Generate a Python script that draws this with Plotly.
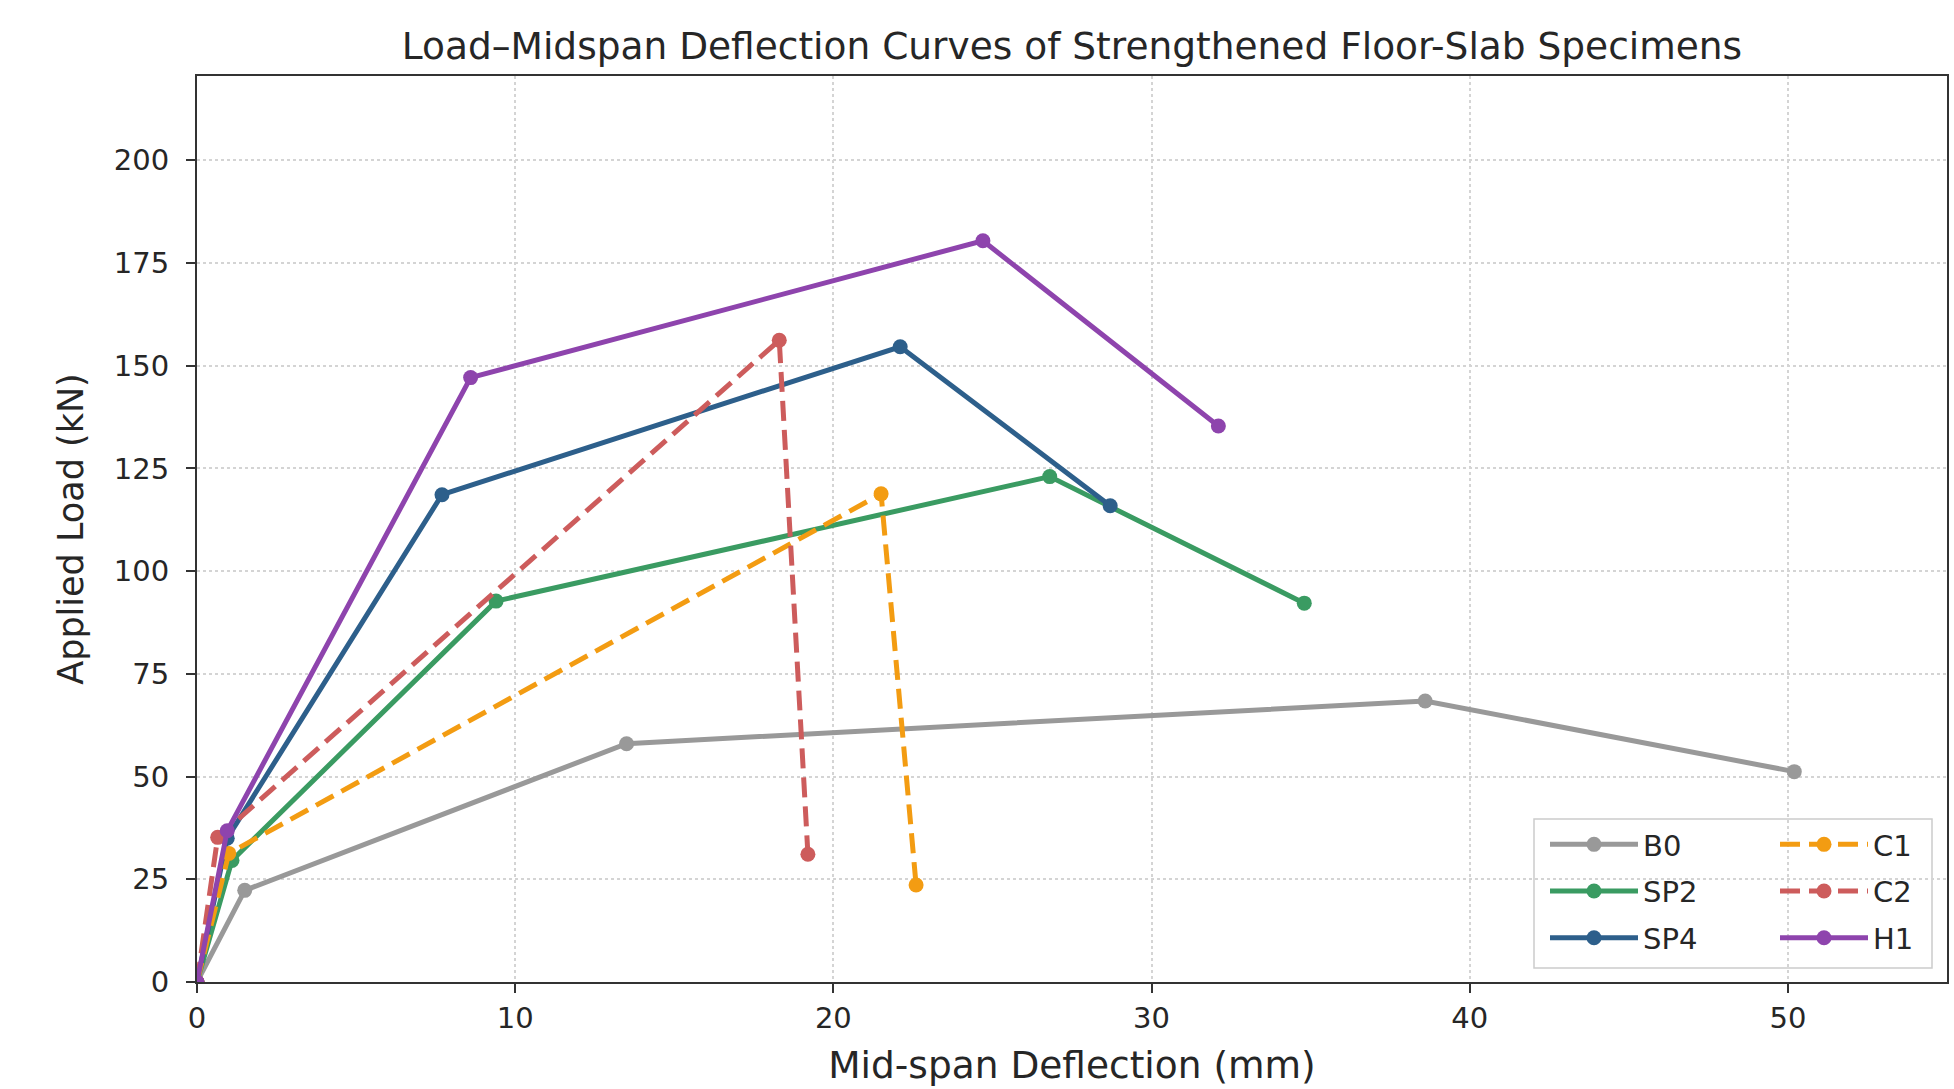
import plotly.graph_objects as go

# ---- data ----
specimens = ["B0", "SP2", "SP4", "C1", "C2", "H1"]
b0_x = [0, 1.5, 13.5, 38.6, 50.2]
b0_y = [0, 22.3, 58.0, 68.4, 51.2]
sp2_x = [0, 1.1, 9.4, 26.8, 34.8]
sp2_y = [0, 29.6, 92.7, 123.0, 92.2]
sp4_x = [0, 0.95, 7.7, 22.1, 28.7]
sp4_y = [0, 35.0, 118.6, 154.6, 115.9]
c1_x = [0, 1.0, 21.5, 22.6]
c1_y = [0, 31.3, 118.8, 23.6]
c2_x = [0, 0.65, 18.3, 19.2]
c2_y = [0, 35.2, 156.2, 31.1]
h1_x = [0, 0.95, 8.6, 24.7, 32.1]
h1_y = [0, 36.8, 147.1, 180.4, 135.3]

x_ticks = [0, 10, 20, 30, 40, 50]
y_ticks = [0, 25, 50, 75, 100, 125, 150, 175, 200]

colors = {"B0": "#999999", "SP2": "#3a9b62", "SP4": "#2d5f8b",
          "C1": "#f39c12", "C2": "#cd5c5c", "H1": "#8e44ad"}
dashed = {"C1", "C2"}
legend_of = {"B0": "legend", "SP2": "legend", "SP4": "legend",
             "C1": "legend2", "C2": "legend2", "H1": "legend2"}

series = {"B0": (b0_x, b0_y), "SP2": (sp2_x, sp2_y), "SP4": (sp4_x, sp4_y),
          "C1": (c1_x, c1_y), "C2": (c2_x, c2_y), "H1": (h1_x, h1_y)}

FONT = "DejaVu Sans"
fig = go.Figure()
for name in specimens:
    xs, ys = series[name]
    fig.add_trace(go.Scatter(
        x=xs, y=ys, name=name, mode="lines+markers",
        line=dict(color=colors[name], width=5,
                  dash="20px,9px" if name in dashed else "solid"),
        marker=dict(color=colors[name], size=15),
        legend=legend_of[name], legendgroup=name,
    ))

W, H = 1954, 1089
L, R, T, B = 197, 7, 76, 107
PW, PH = W - L - R, H - T - B

legend_common = dict(
    font=dict(family=FONT, size=29, color="#262626"),
    bgcolor="rgba(0,0,0,0)", borderwidth=0,
    xanchor="left", yanchor="top", tracegroupgap=6,
    itemwidth=88,
)

fig.update_layout(
    width=W, height=H,
    margin=dict(l=L, r=R, t=T, b=B, autoexpand=False),
    paper_bgcolor="white", plot_bgcolor="white",
    font=dict(family=FONT, color="#262626"),
    title=dict(text="Load\u2013Midspan Deflection Curves of Strengthened Floor-Slab Specimens",
               font=dict(family=FONT, size=37.5, color="#262626"),
               x=0.5, xref="paper", xanchor="center",
               y=1 - 46 / H, yref="container", yanchor="middle"),
    xaxis=dict(range=[0, 55], tickvals=x_ticks, ticktext=[str(v) for v in x_ticks],
               showgrid=True, gridcolor="#d4d4d4", griddash="dot", gridwidth=1.5,
               zeroline=False, showline=True, linecolor="#333333", linewidth=2,
               mirror=True, ticks="outside", ticklen=9, tickwidth=2, tickcolor="#333333",
               automargin=False,
               tickfont=dict(family=FONT, size=29, color="#262626"),
               title=dict(text="Mid-span Deflection (mm)",
                          font=dict(family=FONT, size=37.5, color="#262626"), standoff=18)),
    yaxis=dict(range=[0, 220.5], tickvals=y_ticks, ticktext=[str(v) for v in y_ticks],
               showgrid=True, gridcolor="#d4d4d4", griddash="dot", gridwidth=1.5,
               zeroline=False, showline=True, linecolor="#333333", linewidth=2,
               mirror=True, ticks="outside", ticklen=9, tickwidth=2, tickcolor="#333333",
               automargin=False,
               tickfont=dict(family=FONT, size=29, color="#262626"),
               ticklabelstandoff=11,
               title=dict(text="Applied Load (kN)",
                          font=dict(family=FONT, size=35, color="#262626"), standoff=20)),
    legend=dict(x=(1545 - L) / PW, y=(H - B - 819) / PH, **legend_common),
    legend2=dict(x=(1775 - L) / PW, y=(H - B - 819) / PH, **legend_common),
    showlegend=True,
)

# legend frame
fig.add_shape(type="rect", xref="paper", yref="paper",
              x0=(1534 - L) / PW, x1=(1932 - L) / PW,
              y0=(H - B - 968) / PH, y1=(H - B - 819) / PH,
              line=dict(color="#cccccc", width=1.5), fillcolor="rgba(255,255,255,0.8)",
              layer="below")

fig.write_html("out.html", config={"displayModeBar": False},
               post_script="document.body.style.margin='0';document.body.style.overflow='hidden';")
